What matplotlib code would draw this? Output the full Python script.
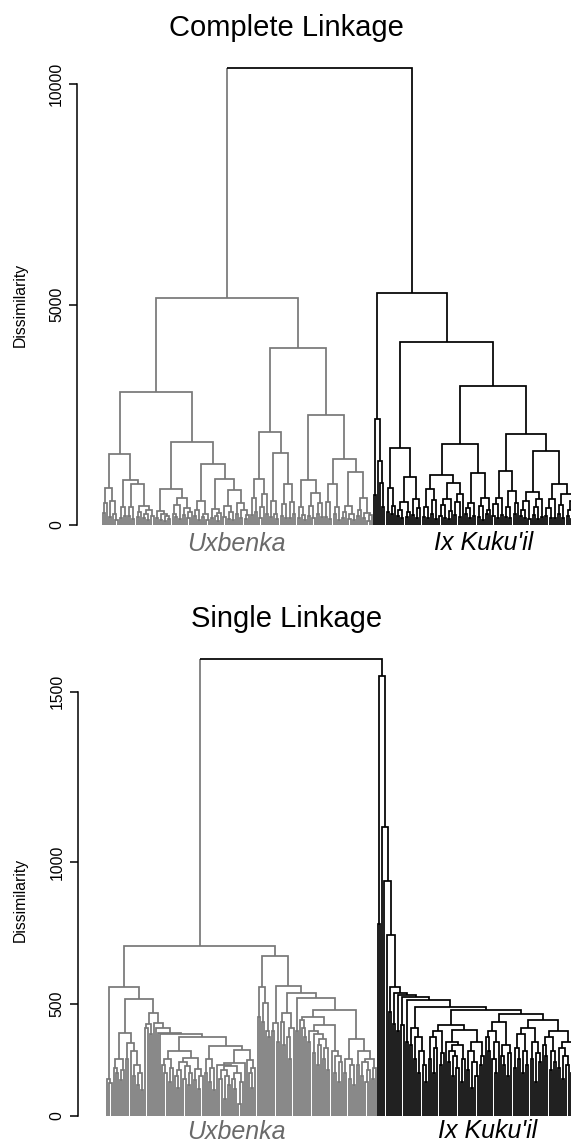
import numpy as np
import matplotlib
matplotlib.use("Agg")
import matplotlib.pyplot as plt
from matplotlib.collections import LineCollection

# ---------------- data (merge heights between neighbouring leaves) ----------------
complete_root_height = 10363
complete_ux_gaps = [280, 506, 846, 180, 551, 240, 120, 1603,
    150, 416, 200, 1020, 210, 416, 130, 922, 180, 300, 438, 160, 260, 110, 330, 200,
    3009,
    150, 326, 120, 240, 90, 200, 130, 810, 260, 180, 450, 140, 620, 220, 380, 150, 300,
    1890,
    200, 340, 120, 551, 180, 260, 110, 1383, 160, 363, 210, 100, 280, 1043, 190, 430,
    140, 300, 120, 794, 250, 500, 170, 350, 130, 220,
    5150,
    220, 605, 300, 1043, 150, 400, 696, 260, 2102, 180, 551, 240, 130, 1640, 200, 480,
    150, 922, 170, 520, 260,
    4014,
    160, 416, 230, 110, 1020, 200, 420, 150, 718, 260, 500, 180, 2494, 190, 520, 140,
    922, 240, 400, 120, 1497, 160, 300, 438, 130, 250, 110, 1202, 200, 350, 605, 150,
    280, 100, 230]
complete_ix_gaps = [680, 2397, 1458, 945, 400,
    5268,
    300, 846, 250, 420, 1753, 200, 350, 150, 520, 180, 300, 1096, 220, 600, 160, 380,
    4142,
    180, 400, 150, 824, 250, 560, 130, 1134, 200, 450, 170, 600, 140, 320, 960, 230,
    520, 180, 700, 1837, 250, 380, 150, 500, 200, 1187, 180, 420, 120, 605, 260, 350,
    3152,
    200, 480, 150, 620, 220, 1232, 180, 400, 150, 778, 260, 500, 2063, 200, 350, 160,
    550, 130, 748, 220, 400, 140, 600, 180, 1685, 200, 380, 150, 600, 170, 930, 250,
    450, 160, 700, 200, 350, 130, 550, 220]

single_root_height = 1587
single_ux_gaps = [178, 159, 564,
    231, 205, 269, 173, 218, 379, 269, 337, 306, 192, 244, 153, 205, 126,
    519,
    402, 418, 378,
    464,
    424, 403, 383, 376,
    244, 205, 269, 166, 231, 306, 192, 139, 218, 256, 179, 237, 153, 205, 275, 173,
    224, 133, 192,
    366,
    205, 269, 166, 231, 126, 325, 244, 179, 218, 85, 192, 153, 237, 179, 133, 205, 57,
    166, 250, 308, 265, 205, 139, 231,
    718,
    448, 564, 425, 503, 390, 366,
    681,
    390, 423, 342,
    569,
    425, 330, 464, 366, 269, 402,
    541,
    390, 523,
    436, 402, 366, 448, 342, 390, 294, 378, 244, 330, 354, 269, 318, 218, 413, 306,
    205, 281, 166, 256,
    475,
    205, 269, 179, 244, 153, 354, 244, 305, 192, 256, 166, 218, 269, 179, 231]
single_ix_gaps = [796, 1542, 1110, 940, 756, 468, 564, 419, 541, 390, 534, 413, 528, 342, 514,
    330, 402, 269, 366, 205, 306, 244, 166,
    485,
    269, 366, 205, 318, 390, 244, 294, 414, 342, 256, 306, 192, 281, 231, 330, 166,
    269, 393, 218, 306, 139, 256, 192, 342, 244, 281,
    475,
    366, 306, 390, 269, 205, 342, 425, 281, 244, 330, 192, 294, 459, 231, 318, 269,
    378, 205, 306, 244, 402, 269, 342, 166, 294, 256, 436, 330, 281, 366, 218, 306,
    256, 390, 231, 318, 179, 281, 244, 342, 205, 269]

titles = ["Complete Linkage", "Single Linkage"]
group_names = ["Uxbenka", "Ix Kuku'il"]
complete_ticks = [0, 5000, 10000]
single_ticks = [0, 500, 1000, 1500]

# ---------------- helpers ----------------
GRAY = "#777777"
TXTGRAY = "#6a6a6a"
FONT = "Liberation Sans"


def build(gaps, offset):
    """Rebuild a dendrogram from the ordered neighbour merge heights."""
    gaps = list(gaps)
    paths = []

    def rec(lo, hi):
        if lo == hi:
            return lo + offset, 0.0
        k = lo + int(np.argmax(gaps[lo:hi]))
        h = gaps[k]
        xl, hl = rec(lo, k)
        xr, hr = rec(k + 1, hi)
        paths.append([(xl, hl), (xl, h), (xr, h), (xr, hr)])
        return (xl + xr) / 2.0, h

    top = rec(0, len(gaps))
    return top, paths


def draw_tree(ax, ux_gaps, ix_gaps, root_h):
    n_ux = len(ux_gaps) + 1
    (ux_x, ux_h), ux_paths = build(ux_gaps, 0)
    (ix_x, ix_h), ix_paths = build(ix_gaps, n_ux)
    ux_paths.append([(ux_x, ux_h), (ux_x, root_h)])
    ix_paths.append([(ux_x, root_h), (ix_x, root_h), (ix_x, ix_h)])
    lc1 = LineCollection(ux_paths, colors=GRAY, linewidths=1.25,
                         joinstyle="miter", capstyle="butt")
    lc2 = LineCollection(ix_paths, colors="black", linewidths=1.25,
                         joinstyle="miter", capstyle="butt")
    ax.add_collection(lc1)
    ax.add_collection(lc2)


W, H = 571, 1142
fig = plt.figure(figsize=(W / 100, H / 100), dpi=100)


def px_axes(left, right, top, bottom):
    return fig.add_axes([left / W, 1 - bottom / H, (right - left) / W, (bottom - top) / H])


def style_axis(ax, ticks, top_tick):
    for s in ["top", "right", "bottom"]:
        ax.spines[s].set_visible(False)
    ax.spines["left"].set_bounds(0, top_tick)
    ax.spines["left"].set_linewidth(1.1)
    ax.set_xticks([])
    ax.set_yticks(ticks)
    ax.set_yticklabels([str(t) for t in ticks], rotation=90, va="center",
                       fontsize=11.3, family=FONT)
    ax.tick_params(axis="y", length=5.5, width=1.1, pad=4)
    ax.patch.set_alpha(0)


# ---- Complete linkage panel ----
ax1 = px_axes(77.3, 571, 55, 532)
draw_tree(ax1, complete_ux_gaps, complete_ix_gaps, complete_root_height)
ax1.set_xlim((77.3 - 102.7) / 2.118, (571 - 102.7) / 2.118)
ax1.set_ylim((525 - 532) / 0.0441, (525 - 55) / 0.0441)
style_axis(ax1, complete_ticks, complete_ticks[-1])

# ---- Single linkage panel (its height axis widens towards the top) ----
QA, QB = 0.1947, 5.867e-5


def sl_forward(v):
    v = np.asarray(v, dtype=float)
    return QA * v + QB * v * np.abs(v)


def sl_inverse(p):
    p = np.asarray(p, dtype=float)
    return np.sign(p) * (np.sqrt(QA ** 2 + 4 * QB * np.abs(p)) - QA) / (2 * QB)


ax2 = px_axes(78, 571, 640, 1125)
ax2.set_yscale("function", functions=(sl_forward, sl_inverse))
draw_tree(ax2, single_ux_gaps, single_ix_gaps, single_root_height)
ax2.set_xlim((78 - 107.3) / 2.116, (571 - 107.3) / 2.116)
ax2.set_ylim(float(sl_inverse(1115.7 - 1125)), float(sl_inverse(1115.7 - 640)))
style_axis(ax2, single_ticks, single_ticks[-1])

# ---- texts ----
fig.text(286 / W, 1 - 36 / H, titles[0], ha="center", va="baseline",
         fontsize=21, family=FONT)
fig.text(287 / W, 1 - 627 / H, titles[1], ha="center", va="baseline",
         fontsize=21, family=FONT)
fig.text(20 / W, 1 - 304.5 / H, "Dissimilarity", rotation=90, ha="center",
         va="center", fontsize=11.3, family=FONT)
fig.text(20 / W, 1 - 900 / H, "Dissimilarity", rotation=90, ha="center",
         va="center", fontsize=11.3, family=FONT)

fig.text(236.7 / W, 1 - 551 / H, group_names[0], ha="center", va="baseline",
         fontsize=18, style="italic", color=TXTGRAY, family=FONT)
fig.text(484 / W, 1 - 550 / H, group_names[1], ha="center", va="baseline",
         fontsize=18, style="italic", color="black", family=FONT)
fig.text(236.7 / W, 1 - 1139 / H, group_names[0], ha="center", va="baseline",
         fontsize=18, style="italic", color=TXTGRAY, family=FONT)
fig.text(488 / W, 1 - 1137.5 / H, group_names[1], ha="center", va="baseline",
         fontsize=18, style="italic", color="black", family=FONT)

fig.savefig("out.png", dpi=100)
